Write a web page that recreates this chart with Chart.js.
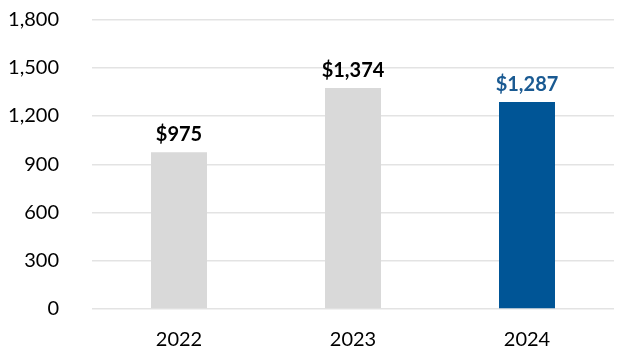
<!DOCTYPE html>
<html>
<head>
<meta charset="utf-8">
<script src="https://cdn.jsdelivr.net/npm/chart.js@4"></script>
<style>
html,body{margin:0;padding:0;background:#fff;}
#wrap{width:624px;height:352px;position:relative;}
</style>
</head>
<body>
<div id="wrap"><canvas id="c" width="624" height="352"></canvas></div>
<script>
const categories = ['2022', '2023', '2024'];
const values = [975, 1374, 1287];
const valueLabels = ['$975', '$1,374', '$1,287'];
const barColors = ['#D9D9D9', '#D9D9D9', '#005596'];
const labelColors = ['#000000', '#000000', '#1A5A92'];
const yTicks = [0, 300, 600, 900, 1200, 1500, 1800];

const FONT = 'Lato, "Open Sans", sans-serif';

const labelPlugin = {
  id: 'barLabels',
  afterDatasetsDraw(chart) {
    const ctx = chart.ctx;
    const meta = chart.getDatasetMeta(0);
    ctx.save();
    ctx.font = 'bold 20px ' + FONT;
    ctx.textAlign = 'center';
    ctx.textBaseline = 'alphabetic';
    meta.data.forEach((bar, i) => {
      ctx.fillStyle = labelColors[i];
      ctx.fillText(valueLabels[i], bar.x, bar.y - 11);
    });
    ctx.restore();
  }
};

new Chart(document.getElementById('c'), {
  type: 'bar',
  data: {
    labels: categories,
    datasets: [{
      data: values,
      backgroundColor: barColors,
      borderWidth: 0,
      barPercentage: 0.3218,
      categoryPercentage: 1.0
    }]
  },
  options: {
    responsive: false,
    animation: false,
    devicePixelRatio: 1,
    layout: { padding: { top: 19.5, right: 10, bottom: 0, left: 0 } },
    plugins: { legend: { display: false }, tooltip: { enabled: false } },
    scales: {
      x: {
        grid: { display: false, drawTicks: false },
        border: { display: false },
        ticks: { color: '#000', font: { family: FONT, size: 20 }, padding: 19 },
        afterFit(s) { s.height = 43; }
      },
      y: {
        min: 0, max: 1800,
        afterBuildTicks(s) { s.ticks = yTicks.map(v => ({ value: v })); },
        grid: { color: '#E3E3E3', lineWidth: 1.5, drawTicks: false },
        border: { display: false },
        ticks: {
          color: '#000', font: { family: FONT, size: 20 }, padding: 33,
          callback: v => v.toLocaleString('en-US')
        },
        afterFit(s) { s.width = 92; s.paddingTop = 0; s.paddingBottom = 0; }
      }
    }
  },
  plugins: [labelPlugin]
});
</script>
</body>
</html>
